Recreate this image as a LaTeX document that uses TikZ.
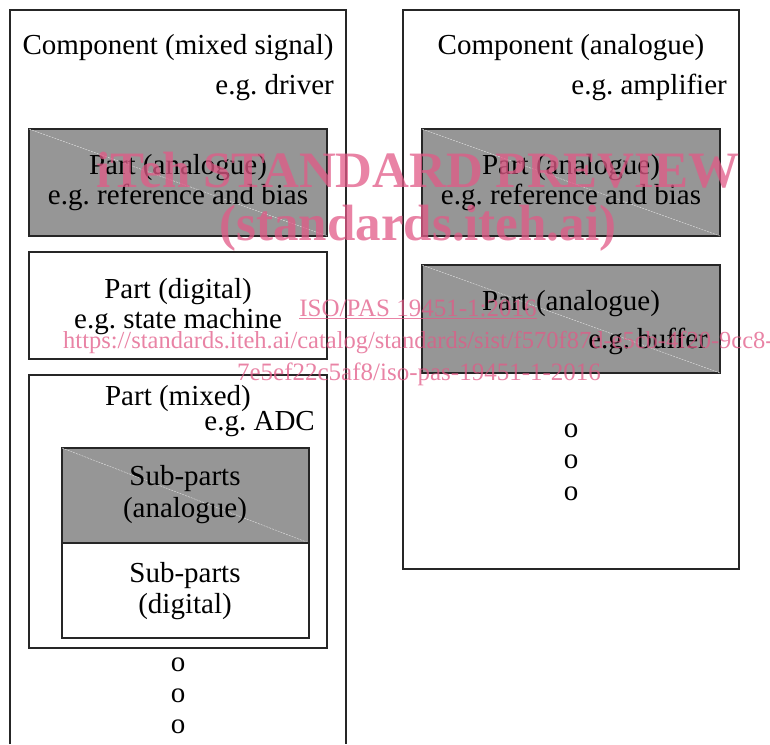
\documentclass[tikz,border=0pt]{standalone}
\usepackage{fontspec}
\setmainfont{Liberation Serif}
\usepackage{tikz}
\definecolor{partgray}{RGB}{150,150,150}
\definecolor{wmpink}{RGB}{225,90,135}
\def\width{770}
\def\hauteur{744}
\frenchspacing

\begin{document}
\begin{tikzpicture}[x=1pt, y=-1pt,
	box/.style={line width=1.2pt, draw=black!85},
	ana/.style={box, fill=partgray},
	diag/.style={white!75!partgray, line width=0.4pt, dash pattern=on 2pt off 1pt},
	lbl/.style={font=\fontsize{29}{32}\selectfont, inner sep=0pt, anchor=base},
	eg/.style={lbl, anchor=base east},
	wm/.style={color=wmpink, opacity=0.75, inner sep=0pt, anchor=base}]
	\useasboundingbox (0,0) rectangle (\width,\hauteur);
	%\draw[step=10pt, black!10] (0,0) grid (\width,\hauteur);
	% component (mixed signal), open at the bottom
	\draw[box] (10,\hauteur) -- (10,10) -- (346,10) -- (346,\hauteur);
	\node[lbl] (cmix) at (178,54){Component (mixed signal)};
	\node[eg] (cmixeg) at (334,94){e.g. driver};
	\draw[ana] (29,129) rectangle (327,236);
	\draw[diag] (29,129) -- (327,236);
	\node[lbl] (lana) at (178,174){Part (analogue)};
	\node[lbl] (lanaeg) at (178,204){e.g. reference and bias};
	\draw[box] (29,252) rectangle (327,359);
	\node[lbl] (ldig) at (178,298){Part (digital)};
	\node[lbl] (ldigeg) at (178,328){e.g. state machine};
	\draw[box] (29,375) rectangle (327,648);
	\node[lbl] (lmix) at (178,405){Part (mixed)};
	\node[eg] (lmixeg) at (315,430){e.g. ADC};
	\draw[ana] (62,448) rectangle (309,543);
	\draw[diag] (62,448) -- (309,543);
	\draw[box] (62,543) rectangle (309,638);
	\node[lbl] (subana) at (185,485){Sub-parts};
	\node[lbl] (subanab) at (185,517){(analogue)};
	\node[lbl] (subdig) at (185,582){Sub-parts};
	\node[lbl] (subdigb) at (185,613){(digital)};
	\foreach \y [count=\i] in {671,702,733}
		\node[lbl] (ldot\i) at (178,\y){o};
	% component (analogue)
	\draw[box] (403,10) rectangle (739,569);
	\node[lbl] (cana) at (571,54){Component (analogue)};
	\node[eg] (canaeg) at (727,94){e.g. amplifier};
	\draw[ana] (422,129) rectangle (720,236);
	\draw[diag] (422,129) -- (720,236);
	\node[lbl] (rana) at (571,174){Part (analogue)};
	\node[lbl] (ranaeg) at (571,204){e.g. reference and bias};
	\draw[ana] (422,265) rectangle (720,373);
	\draw[diag] (422,265) -- (720,373);
	\node[lbl] (rbuf) at (571,310){Part (analogue)};
	\node[eg] (rbufeg) at (708,348){e.g. buffer};
	\foreach \y [count=\i] in {437,468,500}
		\node[lbl] (rdot\i) at (571,\y){o};
	% watermark
	\node[wm, font=\fontsize{51}{51}\selectfont\bfseries] (wma) at (418,187){iTeh STANDARD PREVIEW};
	\node[wm, font=\fontsize{51}{51}\selectfont\bfseries] (wmb) at (418,240){(standards.iteh.ai)};
	\node[wm, font=\fontsize{25}{25}\selectfont] (wmc) at (418,316){\underline{ISO/PAS 19451-1:2016}};
	\node[wm, font=\fontsize{24.5}{25}\selectfont, anchor=base west] (wmd) at (63,348){https://standards.iteh.ai/catalog/standards/sist/f570f87d-e5cb-4f20-9cc8-};
	\node[wm, font=\fontsize{25}{25}\selectfont] (wme) at (419,380){7e5ef22c5af8/iso-pas-19451-1-2016};
\end{tikzpicture}
\end{document}
